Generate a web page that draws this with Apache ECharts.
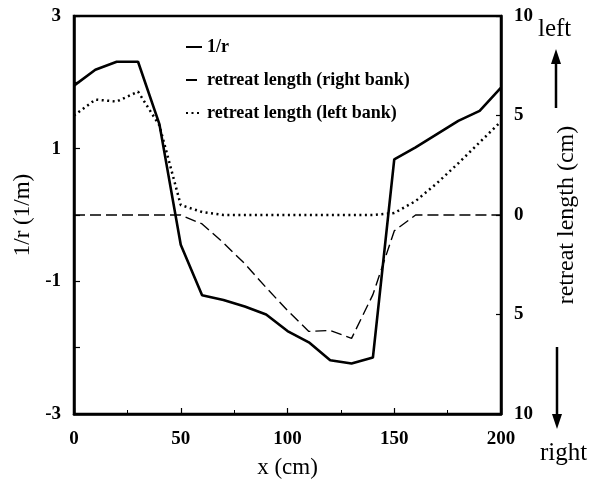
<!DOCTYPE html>
<html>
<head>
<meta charset="utf-8">
<script src="https://cdn.jsdelivr.net/npm/echarts@6/dist/echarts.min.js"></script>
<style>
  html, body { margin: 0; padding: 0; background: #fff; }
  #chart { width: 594px; height: 484px; }
</style>
</head>
<body>
<div id="chart"></div>
<script>
// x positions along the channel (cm)
const xs = [0, 10, 20, 30, 40, 50, 60, 70, 80, 90, 100, 110, 120, 130, 140, 150, 160, 170, 180, 190, 200];
// curvature 1/r (1/m)
const curvature = [1.95, 2.19, 2.31, 2.31, 1.37, -0.45, -1.21, -1.28, -1.38, -1.5, -1.75, -1.92, -2.19, -2.24, -2.15, 0.84, 1.02, 1.22, 1.42, 1.57, 1.92];
// retreat length (cm), right bank plotted downward (negative)
const rightBank = [0, 0, 0, 0, 0, 0, -0.45, -1.4, -2.45, -3.65, -4.8, -5.85, -5.8, -6.2, -4.0, -0.8, 0, 0, 0, 0, 0];
// retreat length (cm), left bank plotted upward (positive)
const leftBank = [5.0, 5.8, 5.7, 6.2, 4.5, 0.5, 0.15, 0, 0, 0, 0, 0, 0, 0, 0, 0.1, 0.7, 1.6, 2.6, 3.65, 4.7];

const names = ['1/r', 'retreat length (right bank)', 'retreat length (left bank)'];
const serif = 'Liberation Serif';

const pairs = (ys) => xs.map((x, i) => [x, ys[i]]);

const chart = echarts.init(document.getElementById('chart'));

chart.setOption({
  animation: false,
  backgroundColor: '#fff',
  textStyle: { fontFamily: serif, color: '#000' },
  grid: {
    left: 74, right: 93, top: 16, bottom: 68,
    show: true, borderColor: '#000', borderWidth: 2.5
  },
  legend: {
    data: names,
    orient: 'vertical',
    left: 180, top: 33,
    itemWidth: 16, itemHeight: 14, itemGap: 15,
    // hide the marker circle, keep the line sample
    itemStyle: { opacity: 0 },
    textStyle: { fontFamily: serif, fontSize: 18, fontWeight: 'bold', color: '#000' }
  },
  xAxis: {
    type: 'value',
    min: 0, max: 200, interval: 50,
    name: 'x (cm)',
    nameLocation: 'middle',
    nameGap: 42,
    nameTextStyle: { fontFamily: serif, fontSize: 23, color: '#000' },
    axisLine: { onZero: false, lineStyle: { color: '#000', width: 2.5 } },
    axisTick: { inside: true, length: 6, lineStyle: { color: '#000', width: 1.2 } },
    minorTick: { show: true, splitNumber: 2, length: 4, lineStyle: { color: '#000', width: 1 } },
    splitLine: { show: false },
    axisLabel: { fontFamily: serif, fontSize: 19, fontWeight: 'bold', color: '#000', margin: 16 }
  },
  yAxis: [
    {
      type: 'value',
      min: -3, max: 3, interval: 1,
      name: '1/r (1/m)',
      nameLocation: 'middle',
      nameRotate: 90,
      nameGap: 36,
      nameTextStyle: { fontFamily: serif, fontSize: 23, color: '#000' },
      axisLine: { show: true, onZero: false, lineStyle: { color: '#000', width: 2.5 } },
      axisTick: { inside: true, length: 6, lineStyle: { color: '#000', width: 1.2 } },
      splitLine: { show: false },
      axisLabel: {
        fontFamily: serif, fontSize: 19, fontWeight: 'bold', color: '#000', margin: 13,
        formatter: (v) => (Math.abs(v) % 2 === 1 ? String(v) : '')
      }
    },
    {
      type: 'value',
      position: 'right',
      min: -10, max: 10, interval: 5,
      name: 'retreat length (cm)',
      nameLocation: 'middle',
      nameRotate: 90,
      nameGap: 54,
      nameTextStyle: { fontFamily: serif, fontSize: 24, color: '#000' },
      axisLine: { show: true, onZero: false, lineStyle: { color: '#000', width: 2.5 } },
      axisTick: { inside: true, length: 5, lineStyle: { color: '#000', width: 1.2 } },
      splitLine: { show: false },
      axisLabel: {
        fontFamily: serif, fontSize: 19, fontWeight: 'bold', color: '#000', margin: 13,
        formatter: (v) => String(Math.abs(v))
      }
    }
  ],
  series: [
    {
      name: names[0],
      type: 'line',
      yAxisIndex: 0,
      data: pairs(curvature),
      symbol: 'none',
      lineStyle: { color: '#000', width: 2.6, type: 'solid' },
      itemStyle: { color: '#000' },
      z: 3
    },
    {
      name: names[1],
      type: 'line',
      yAxisIndex: 1,
      data: pairs(rightBank),
      symbol: 'none',
      lineStyle: { color: '#000', width: 1.4, type: [11, 5] },
      itemStyle: { color: '#000' }
    },
    {
      name: names[2],
      type: 'line',
      yAxisIndex: 1,
      data: pairs(leftBank),
      symbol: 'none',
      lineStyle: { color: '#000', width: 2.5, type: [2, 3.5] },
      itemStyle: { color: '#000' }
    }
  ],
  graphic: [
    { type: 'text', left: 538, top: 17, style: { text: 'left', fontFamily: serif, fontSize: 25, fill: '#000' } },
    { type: 'text', left: 540, top: 441, style: { text: 'right', fontFamily: serif, fontSize: 25, fill: '#000' } },
    { type: 'line', shape: { x1: 556, y1: 108, x2: 556, y2: 62 }, style: { stroke: '#000', lineWidth: 2.5 } },
    { type: 'polygon', shape: { points: [[556, 49], [551, 64], [561, 64]] }, style: { fill: '#000' } },
    { type: 'line', shape: { x1: 557, y1: 347, x2: 557, y2: 414 }, style: { stroke: '#000', lineWidth: 2.5 } },
    { type: 'polygon', shape: { points: [[557, 429], [552, 414], [562, 414]] }, style: { fill: '#000' } }
  ]
});
</script>
</body>
</html>
